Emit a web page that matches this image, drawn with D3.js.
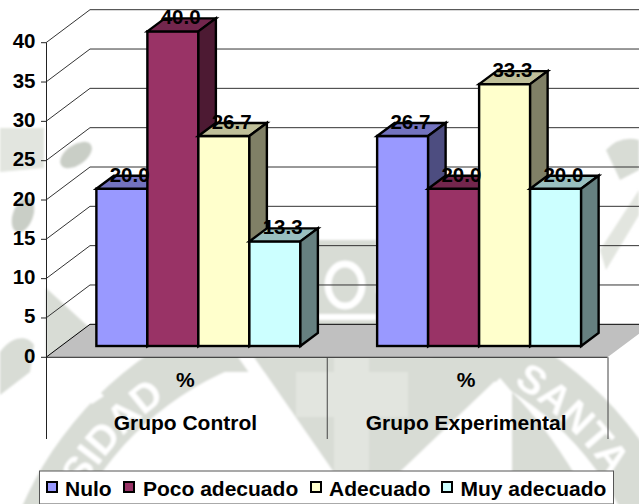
<!DOCTYPE html>
<html>
<head>
<meta charset="utf-8">
<script src="https://cdn.jsdelivr.net/npm/d3@7"></script>
<style>
  html, body { margin: 0; padding: 0; background: #fff; }
  svg { display: block; }
  text { font-family: "Liberation Sans", Arial, sans-serif; font-weight: bold; fill: #000; }
</style>
</head>
<body>
<div id="chart-area"></div>
<script>
var groups = ['Grupo Control', 'Grupo Experimental'];
var seriesNames = ['Nulo', 'Poco adecuado', 'Adecuado', 'Muy adecuado'];
var nulo = [20.0, 26.7];
var poco = [40.0, 20.0];
var adecuado = [26.7, 33.3];
var muy = [13.3, 20.0];
var seriesValues = [nulo, poco, adecuado, muy];
var colors = ['#9999ff', '#993366', '#ffffcc', '#ccffff'];
var yTicks = [0, 5, 10, 15, 20, 25, 30, 35, 40];

var width = 639, height = 504;
var fontSize = 20.5;
var labelSize = 21;
var svg = d3.select('#chart-area').append('svg')
  .attr('width', width)
  .attr('height', height);

var defs = svg.append('defs');
defs.append('filter').attr('id', 'soft')
  .append('feGaussianBlur').attr('stdDeviation', 1.2);
defs.append('path').attr('id', 'ringLeft')
  .attr('d', d3.arc()({innerRadius: 312, outerRadius: 312, startAngle: -1.03, endAngle: -0.45})
    .split('L')[0]);
defs.append('path').attr('id', 'ringRight')
  .attr('d', d3.arc()({innerRadius: 312, outerRadius: 312, startAngle: 0.55, endAngle: 1.1})
    .split('L')[0]);

// scales
var y = d3.scaleLinear().domain([0, 40]).range([357.3, 42.7]);
var x0 = d3.scaleBand().domain(groups).range([46, 607.5]);
var x1 = d3.scaleBand().domain(seriesNames).range([0, 204]);
var groupPad = (x0.bandwidth() - 204) / 2;

// 3d offsets
var wallDx = 44, wallDy = -33;
var barShiftX = 12, barShiftY = -11.3;
var depthX = 17.5, depthY = -13;

// watermark seal behind the chart
var mark = svg.append('g').attr('filter', 'url(#soft)');
var markGrey = '#d8dcd5';
var markLight = '#e2e5df';
var seal = mark.append('g').attr('transform', 'translate(350,650)');
seal.append('circle').attr('r', 358).attr('fill', markGrey);
seal.append('circle').attr('r', 305).attr('fill', '#fff');
seal.append('text').attr('font-size', 40).style('fill', '#fff')
  .append('textPath').attr('href', '#ringLeft').attr('startOffset', '0%').text('SIDAD');
seal.append('text').attr('font-size', 40).style('fill', '#fff')
  .append('textPath').attr('href', '#ringRight').attr('startOffset', '0%').text('SANTA');
// stripe above the ring on the left
mark.append('path').attr('d', 'M50,357 L62,357 L104,396 L92,404 Z').attr('fill', '#fff');
// white cut where the ring meets the cross
mark.append('path').attr('d', 'M200,357 H500 V372 H200 Z').attr('fill', markGrey);
mark.append('path').attr('d', 'M238,357 L254,357 L360,510 L500,378 L512,392 L360,530 Z').attr('fill', '#fff');
mark.append('path').attr('d', 'M254,357 H498 V378 L360,510 Z').attr('fill', markGrey);
mark.append('path').attr('d', 'M512,392 Q545,425 575,475 V504 H512 Z').attr('fill', markGrey);
mark.append('path').attr('d', 'M296,372 H334 V345 H369 V372 H408 V417 H369 V492 H334 V417 H296 Z')
  .attr('fill', markLight);
mark.append('path').attr('d', 'M0,128 H44 V168 L0,172 Z').attr('fill', markLight);
mark.append('ellipse').attr('cx', 76).attr('cy', 155).attr('rx', 18).attr('ry', 10)
  .attr('transform', 'rotate(-35,76,155)').attr('fill', '#c9cec6');
mark.append('ellipse').attr('cx', 23).attr('cy', 215).attr('rx', 10).attr('ry', 18)
  .attr('transform', 'rotate(20,23,215)').attr('fill', '#c9cec6');
mark.append('path').attr('d', 'M46,288 L92,330 L46,357 Z').attr('fill', markGrey);
mark.append('path').attr('d', 'M300,240 H376 V325 H300 Z').attr('fill', markGrey);
mark.append('ellipse').attr('cx', 345).attr('cy', 285).attr('rx', 17).attr('ry', 21)
  .attr('fill', 'none').attr('stroke', '#fff').attr('stroke-width', 7);
mark.append('path').attr('d', 'M300,317 H376').attr('stroke', '#fff').attr('stroke-width', 6);
mark.append('path').attr('d', 'M606,150 Q620,135 639,140 V170 L620,180 Z').attr('fill', markGrey);
mark.append('path').attr('d', 'M600,250 L639,190 V215 L606,270 Z').attr('fill', markLight);
mark.append('path').attr('d', 'M0,352 C12,335 28,335 34,345 L30,372 L0,395 Z').attr('fill', markGrey);

// floor
var floor = [
  [x0.range()[0], y(0)],
  [x0.range()[0] + wallDx, y(0) + wallDy],
  [x0.range()[1] + wallDx, y(0) + wallDy],
  [x0.range()[1], y(0)]
];
svg.append('path')
  .attr('d', d3.line()(floor) + 'Z')
  .attr('fill', '#c0c0c0');

// grid lines on left wall and back wall
var grid = svg.append('g');
yTicks.forEach(function(t) {
  grid.append('path')
    .attr('fill', 'none')
    .attr('stroke', t == 0 ? '#000' : '#333')
    .attr('stroke-width', 1)
    .attr('d', d3.line()([
      [x0.range()[0], y(t)],
      [x0.range()[0] + wallDx, y(t) + wallDy],
      [x0.range()[1] + wallDx, y(t) + wallDy]
    ]));
});

// left axis
svg.append('line')
  .attr('x1', 46.5).attr('x2', 46.5)
  .attr('y1', y(40)).attr('y2', 439)
  .attr('stroke', '#222');
var ticks = svg.append('g').selectAll('g').data(yTicks).enter().append('g');
ticks.append('line')
  .attr('x1', 41).attr('x2', 46)
  .attr('y1', d => y(d)).attr('y2', d => y(d))
  .attr('stroke', '#222');
ticks.append('text')
  .attr('x', 35.5)
  .attr('y', d => y(d) + 5.5)
  .attr('text-anchor', 'end')
  .attr('font-size', fontSize)
  .text(d => d);

// front edge and group dividers
svg.append('line')
  .attr('x1', 46).attr('x2', x0.range()[1])
  .attr('y1', y(0)).attr('y2', y(0))
  .attr('stroke', '#222');
[groups[1], null].forEach(function(g) {
  var px = g ? x0(g) : x0.range()[1];
  svg.append('line')
    .attr('x1', px + 0.5).attr('x2', px + 0.5)
    .attr('y1', y(0)).attr('y2', 439)
    .attr('stroke', '#444');
});

// bars, drawn left to right so each one covers the side of the one before
var bars = svg.append('g');
groups.forEach(function(g, gi) {
  seriesNames.forEach(function(s, si) {
    var left = x0(g) + groupPad + x1(s) + barShiftX;
    var right = left + x1.bandwidth();
    var top = y(seriesValues[si][gi]) + barShiftY;
    var base = y(0) + barShiftY;
    var c = d3.color(colors[si]);
    var bar = bars.append('g')
      .attr('stroke', '#000')
      .attr('stroke-width', 2.4)
      .attr('stroke-linejoin', 'miter');
    bar.append('rect')
      .attr('x', left).attr('y', top)
      .attr('width', x1.bandwidth()).attr('height', base - top)
      .attr('fill', colors[si]);
    bar.append('path')
      .attr('fill', d3.rgb(c.r * 0.75, c.g * 0.75, c.b * 0.75))
      .attr('d', d3.line()([[left, top], [left + depthX, top + depthY], [right + depthX, top + depthY], [right, top]]) + 'Z');
    bar.append('path')
      .attr('fill', d3.rgb(c.r * 0.5, c.g * 0.5, c.b * 0.5))
      .attr('d', d3.line()([[right, top], [right + depthX, top + depthY], [right + depthX, base + depthY], [right, base]]) + 'Z');
  });
});

// value labels on top of everything
groups.forEach(function(g, gi) {
  seriesNames.forEach(function(s, si) {
    svg.append('text')
      .attr('x', x0(g) + groupPad + x1(s) + barShiftX + x1.bandwidth() / 2 + depthX / 2 - 1)
      .attr('y', y(seriesValues[si][gi]) + barShiftY - 7)
      .attr('text-anchor', 'middle')
      .attr('font-size', fontSize)
      .text(seriesValues[si][gi].toFixed(1));
  });
});

// category labels
groups.forEach(function(g) {
  var cx = x0(g) + x0.bandwidth() / 2 - 1;
  svg.append('text').attr('x', cx).attr('y', 387)
    .attr('text-anchor', 'middle').attr('font-size', labelSize).text('%');
  svg.append('text').attr('x', cx).attr('y', 430)
    .attr('text-anchor', 'middle').attr('font-size', labelSize).text(g);
});

// legend
var legendX = [47, 124, 311, 442];
var legendTextX = [65, 143, 329, 460.5];
var legend = svg.append('g');
legend.append('rect')
  .attr('x', 39.5).attr('y', 471)
  .attr('width', 574).attr('height', 33)
  .attr('fill', '#fff').attr('stroke', '#555');
seriesNames.forEach(function(s, i) {
  legend.append('rect')
    .attr('x', legendX[i]).attr('y', 482)
    .attr('width', 10).attr('height', 10)
    .attr('fill', colors[i]).attr('stroke', '#000').attr('stroke-width', 2);
  legend.append('text')
    .attr('x', legendTextX[i]).attr('y', 496)
    .attr('font-size', labelSize)
    .text(s);
});
</script>
</body>
</html>
